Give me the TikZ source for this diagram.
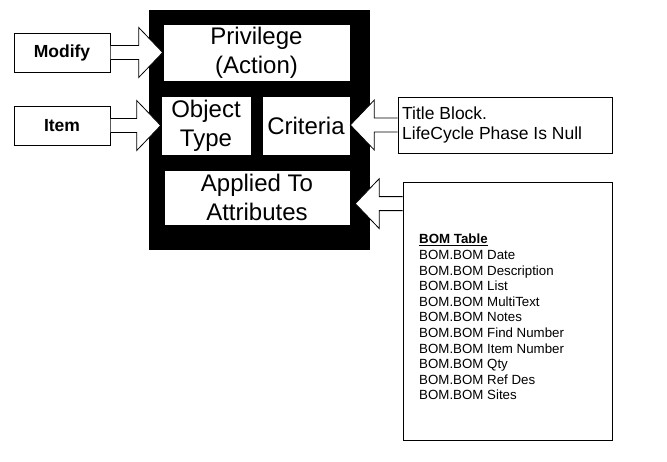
\documentclass[tikz,border=0pt]{standalone}
\usepackage{fontspec}
\setmainfont{Liberation Sans}
\usetikzlibrary{calc}

\tikzset{
	inbox/.style={draw=black, fill=white, line width=0.6pt, align=center, inner sep=0pt, font=\fontsize{24}{29}\selectfont},
	srcbox/.style={draw=black, fill=white, line width=1pt, inner sep=0pt, font=\bfseries\fontsize{17.5}{20}\selectfont},
	txtbox/.style={draw=black, fill=white, line width=0.8pt, inner sep=0pt},
}
% fat arrow: start, tip, direction (+1 right, -1 left)
\newcommand{\fatarrow}[3]{%
	\draw[fill=white, line width=0.8pt] let \p1=(#1), \p2=(#2) in
		(\x1,\y1+7pt) -- (\x2-#3*24pt,\y1+7pt) -- (\x2-#3*24pt,\y1+25pt) -- (\x2,\y1)
		-- (\x2-#3*24pt,\y1-25pt) -- (\x2-#3*24pt,\y1-7pt) -- (\x1,\y1-7pt);}

\begin{document}
\begin{tikzpicture}[x=1pt, y=-1pt]
	\useasboundingbox (0,0) rectangle (667,461);
	\fill[black] (149,10) rectangle (370,250);

	\node[inbox, minimum width=187pt, minimum height=57pt] (priv) at (256.5,52.5) {Privilege\\(Action)};
	\node[inbox, minimum width=90pt, minimum height=59pt] (objtype) at (206,125.5) {Object\\Type};
	\node[inbox, minimum width=88pt, minimum height=59pt] (crit) at (306,125.5) {Criteria};
	\node[inbox, minimum width=186pt, minimum height=55pt] (applied) at (257,197.5) {Applied To\\Attributes};

	\node[srcbox, minimum width=96pt, minimum height=39pt] (modify) at (62,52.5) {Modify};
	\node[srcbox, minimum width=96pt, minimum height=39pt] (item) at (62,125.5) {Item};

	\node[txtbox, minimum width=214pt, minimum height=56pt] (title) at (505,125) {};
	\node[anchor=west, align=left, inner sep=0pt, font=\fontsize{17.5}{20}\selectfont] (titletxt) at (402,125) {Title Block.\\LifeCycle Phase Is Null};

	\node[txtbox, minimum width=209pt, minimum height=258pt] (bom) at (507.5,311) {};
	\node[anchor=north west, align=left, inner sep=0pt, font=\fontsize{13.3}{15.6}\selectfont] (bomtxt) at (419,234)
		{\textbf{\underline{BOM Table}}\\BOM.BOM Date\\BOM.BOM Description\\BOM.BOM List\\BOM.BOM MultiText\\BOM.BOM Notes\\BOM.BOM Find Number\\BOM.BOM Item Number\\BOM.BOM Qty\\BOM.BOM Ref Des\\BOM.BOM Sites};

	\coordinate (bomin) at ($(bom.north west)+(0,22)$);
	\coordinate (appliedtip) at ($(applied.east |- bomin)+(5,0)$);

	\fatarrow{modify.east}{priv.west}{1}
	\fatarrow{item.east}{objtype.west}{1}
	\fatarrow{title.west}{crit.east}{-1}
	\fatarrow{bomin}{appliedtip}{-1}
\end{tikzpicture}
\end{document}
